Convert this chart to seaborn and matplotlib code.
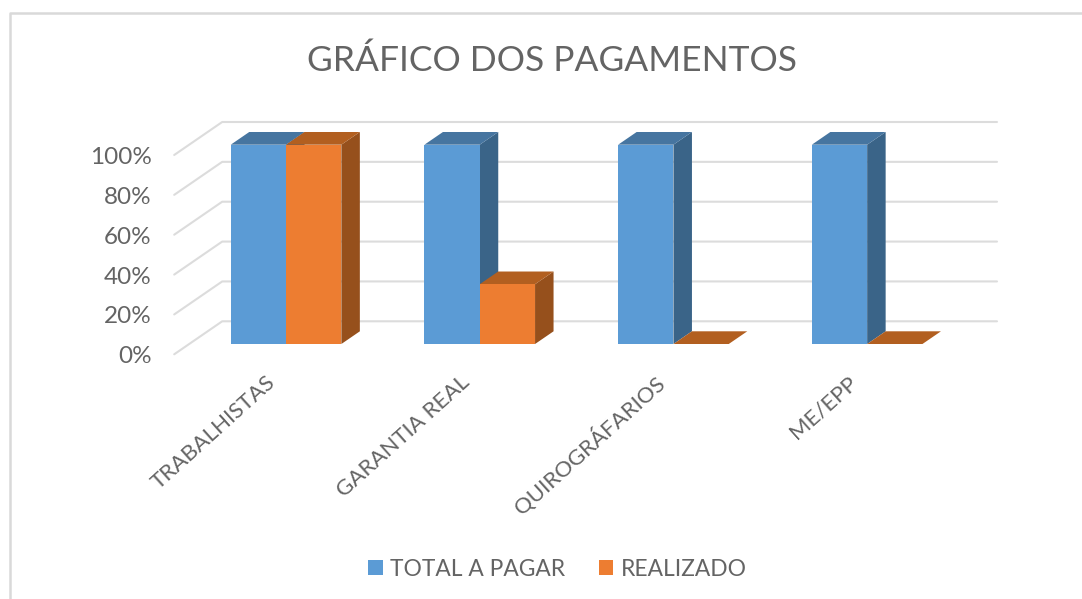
import matplotlib
matplotlib.use("Agg")
import matplotlib.pyplot as plt
import matplotlib.transforms as mtrans
from matplotlib.lines import Line2D
from matplotlib.patches import Polygon
import pandas as pd
import seaborn as sns

# values
categories = ['TRABALHISTAS', 'GARANTIA REAL', 'QUIROGRÁFARIOS', 'ME/EPP']
total_a_pagar = [100, 100, 100, 100]
realizado = [100, 30, 0, 0]
y_ticks = [0, 20, 40, 60, 80, 100]

W, H = 1082, 599

# depth of the fake 3D look, in pixels
BAR_DX, BAR_DY = 18.5, 12.7
BACK_DX, BACK_DY = 33.0, 22.7
FRONT_DX, FRONT_DY = -15.0, -10.3

BLUE, BLUE_SIDE, BLUE_TOP = '#5B9BD5', '#3A6488', '#4675A0'
ORANGE, ORANGE_SIDE, ORANGE_TOP = '#ED7D31', '#96501C', '#B25F20'
GRID = '#DCDCDC'
TEXT = '#646464'

data = pd.DataFrame({
    'cat': categories * 2,
    'serie': ['TOTAL A PAGAR'] * 4 + ['REALIZADO'] * 4,
    'valor': total_a_pagar + realizado,
})

sns.set_theme(style='white')
plt.rcParams['font.family'] = ['Lato', 'DejaVu Sans']

fig = plt.figure(figsize=(W / 100, H / 100), dpi=100)
left, right, top, bottom = 189.2, 964.0, 144.7, 344.0
ax = fig.add_axes([left / W, 1 - bottom / H, (right - left) / W, (bottom - top) / H])
ax.patch.set_alpha(0)

sns.barplot(data=data, x='cat', y='valor', hue='serie', ax=ax, width=0.571, gap=0,
            palette={'TOTAL A PAGAR': BLUE, 'REALIZADO': ORANGE}, saturation=1,
            linewidth=0, zorder=4)
ax.set_xlim(-0.5, len(categories) - 0.5)
ax.set_ylim(0, max(y_ticks))
ax.set_xlabel('')
ax.set_ylabel('')
for s in ax.spines.values():
    s.set_visible(False)

# gridlines: diagonal on the side wall and long line on the back wall
x0, x1 = ax.get_xlim()
for t in y_ticks:
    p_front = ax.transData.transform((x0, t)) + (FRONT_DX, FRONT_DY)
    p_back = ax.transData.transform((x0, t)) + (BACK_DX, BACK_DY)
    p_end = ax.transData.transform((x1, t)) + (BACK_DX, BACK_DY)
    ax.plot([p_front[0], p_back[0], p_end[0]], [p_front[1], p_back[1], p_end[1]],
            transform=None, color=GRID, lw=1.5, zorder=1, clip_on=False)

# side and top faces, built from the bars seaborn drew
face_colors = [(BLUE_SIDE, BLUE_TOP), (ORANGE_SIDE, ORANGE_TOP)]
for k, cont in enumerate(ax.containers):
    side_c, top_c = face_colors[k]
    for bar in cont:
        a = ax.transData.transform((bar.get_x(), bar.get_height()))
        b = ax.transData.transform((bar.get_x() + bar.get_width(), bar.get_height()))
        c = ax.transData.transform((bar.get_x() + bar.get_width(), 0))
        side = [b, b + (BAR_DX, BAR_DY), c + (BAR_DX, BAR_DY), c]
        roof = [a, a + (BAR_DX, BAR_DY), b + (BAR_DX, BAR_DY), b]
        ax.add_patch(Polygon(side, transform=None, color=side_c, lw=0, zorder=2 + k * 0.5, clip_on=False))
        ax.add_patch(Polygon(roof, transform=None, color=top_c, lw=0, zorder=2.1 + k * 0.5, clip_on=False))

# ticks
ax.set_yticks(y_ticks)
ax.set_yticklabels([f'{t}%' for t in y_ticks])
ax.tick_params(axis='y', length=0, pad=0, labelsize=17.5, labelcolor=TEXT)
ax.tick_params(axis='x', length=0, pad=0, labelsize=16, labelcolor=TEXT)
for lab in ax.get_yticklabels():
    lab.set_transform(lab.get_transform() + mtrans.ScaledTranslation(-37.5 / 100, -10.8 / 100, fig.dpi_scale_trans))
for lab in ax.get_xticklabels():
    lab.set_rotation(42)
    lab.set_ha('right')
    lab.set_va('top')
    lab.set_rotation_mode('anchor')
    lab.set_transform(lab.get_transform() + mtrans.ScaledTranslation(-20 / 100, -28 / 100, fig.dpi_scale_trans))

# title and legend
fig.text(552 / W, 1 - 60.5 / H, 'GRÁFICO DOS PAGAMENTOS', ha='center', va='center', fontsize=25.5, color=TEXT)

handles, labels = ax.get_legend_handles_labels()
ax.legend(handles, labels, loc='center', bbox_to_anchor=(557.5 / W, 1 - 569 / H),
          bbox_transform=fig.transFigure, ncol=2, frameon=False, fontsize=16.4,
          labelcolor=TEXT, handlelength=0.65, handleheight=0.65, handletextpad=0.33, columnspacing=1.45)

# chart frame, only top and left edges show in the crop
fig.add_artist(Line2D([9.5 / W, 9.5 / W, 1], [0, 1 - 13.3 / H, 1 - 13.3 / H],
                      transform=fig.transFigure, color='#D9D9D9', lw=1.8))

fig.savefig('out.png', dpi=100)
